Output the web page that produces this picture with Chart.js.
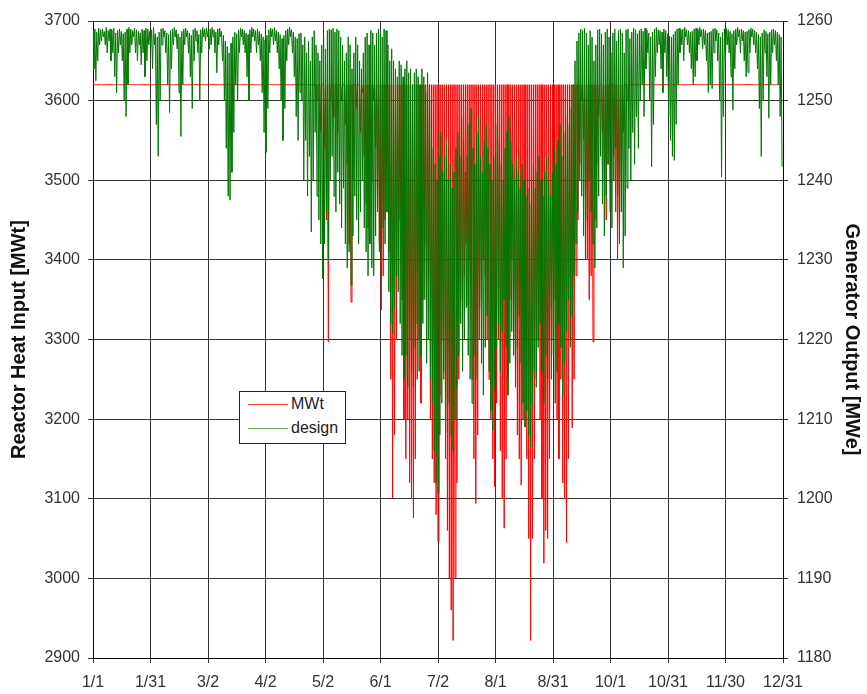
<!DOCTYPE html>
<html>
<head>
<meta charset="utf-8">
<script src="https://cdn.jsdelivr.net/npm/chart.js@4.4.1/dist/chart.umd.min.js"></script>
<style>
  html, body { margin: 0; padding: 0; background: #fff; }
  #wrap { position: relative; width: 867px; height: 694px; }
  #legend {
    position: absolute; left: 239px; top: 391px; width: 105px; height: 51px;
    border: 1px solid #222; background: #fff;
    font: 16px "Liberation Sans", Arial, sans-serif; color: #222;
  }
  .row { position: absolute; left: 0; width: 100%; height: 20px; line-height: 20px; }
  .swatch { position: absolute; left: 8px; top: 10px; width: 40px; height: 0; border-top: 1px solid; }
  .label { position: absolute; left: 51px; top: 0; white-space: nowrap; }
</style>
</head>
<body>
<div id="wrap">
  <canvas id="grafico" width="867" height="694"></canvas>
  <div id="legend">
    <div class="row" style="top:2px"><span class="swatch" style="border-color:#ff4040"></span><span class="label">MWt</span></div>
    <div class="row" style="top:26px"><span class="swatch" style="border-color:#5aae5a"></span><span class="label">design</span></div>
  </div>
</div>
<script>
(() => {
  // Etiquetas del eje X (Excel pone una marca cada 1/12 de año)
  const dayLabels = ["1/1", "1/31", "3/2", "4/2", "5/2", "6/1", "7/2", "8/1", "8/31", "10/1", "10/31", "11/30", "12/31"];
  const daysInYear = 365;

  // Limite de potencia termica (la linea roja plana)
  const mwtLimit = 3620;

  // Minimo diario de MWt (eje izquierdo), dia 0 = 1/1
  const mwtDailyLow = [
    3620,3620,3620,3620,3620,3620,3620,3620,3620,3620,
    3620,3620,3620,3620,3620,3620,3620,3620,3620,3620,
    3620,3620,3620,3620,3620,3620,3620,3620,3620,3620,
    3620,3620,3620,3620,3620,3620,3620,3620,3620,3620,
    3620,3620,3620,3620,3620,3620,3620,3620,3620,3620,
    3620,3620,3620,3620,3620,3620,3620,3620,3620,3620,
    3620,3620,3620,3620,3620,3620,3620,3620,3620,3620,
    3620,3620,3620,3620,3620,3620,3620,3620,3620,3620,
    3620,3620,3620,3620,3620,3620,3620,3620,3620,3620,
    3620,3620,3620,3620,3620,3620,3620,3620,3620,3620,
    3620,3620,3620,3620,3620,3620,3620,3620,3620,3620,
    3620,3620,3620,3620,3620,3620,3620,3620,3600,3620,
    3560,3620,3540,3450,3297,3600,3620,3580,3620,3560,
    3620,3600,3620,3570,3520,3420,3347,3500,3620,3590,
    3620,3560,3610,3530,3470,3440,3560,3500,3600,3540,
    3480,3420,3337,3380,3450,3520,3410,3250,3101,3180,
    3300,3380,3450,3350,3200,3150,3200,3120,3100,3076,
    3150,3250,3300,3220,3350,3420,3300,3380,3200,3150,
    3120,3080,3046,3230,3300,3250,3150,3060,3000,2960,
    2922,3000,3120,3250,3350,3300,3380,3420,3342,3400,
    3250,3150,3094,3180,3300,3350,3400,3380,3300,3250,
    3200,3150,3115,3220,3300,3160,3100,3063,3150,3250,
    3350,3400,3300,3250,3180,3150,3117,3200,3300,3150,
    3050,2922,3050,3150,3250,3300,3200,3100,3019,3060,
    3050,3150,3250,3300,3350,3200,3150,3250,3120,3100,
    3045,3150,3300,3189,3250,3380,3450,3520,3600,3550,
    3480,3400,3350,3380,3297,3450,3520,3580,3620,3560,
    3500,3450,3520,3580,3620,3530,3460,3400,3450,3500,
    3560,3620,3600,3620,3620,3620,3620,3620,3620,3620,
    3620,3620,3620,3620,3620,3620,3620,3620,3620,3620,
    3620,3620,3620,3620,3620,3620,3620,3620,3620,3620,
    3620,3620,3620,3620,3620,3620,3620,3620,3620,3620,
    3620,3620,3620,3620,3620,3620,3620,3620,3620,3620,
    3620,3620,3620,3620,3620,3620,3620,3620,3620,3620,
    3620,3620,3620,3620,3620,3620,3620,3620,3620,3620,
    3620,3620,3620,3620,3620,3620,3620,3620,3620,3620,
    3620,3620,3620,3620,3620
  ];

  // Maximo y minimo diario de la salida del generador (eje derecho, MWe)
  const designDailyHigh = [
    1258.8,1259.0,1258.6,1259.1,1258.9,1259.0,1258.7,1259.2,1258.8,1259.0,
    1258.9,1259.1,1258.5,1258.8,1259.0,1258.7,1258.4,1258.6,1259.0,1259.2,
    1259.0,1258.8,1259.1,1258.9,1258.7,1258.5,1259.0,1258.8,1259.1,1259.0,
    1258.7,1258.9,1259.2,1258.4,1258.0,1258.6,1259.0,1259.1,1258.8,1258.5,
    1258.3,1258.8,1259.0,1259.2,1258.9,1258.4,1258.0,1258.7,1259.0,1259.1,
    1258.8,1258.5,1258.2,1258.9,1259.1,1258.8,1258.3,1258.9,1259.2,1259.0,
    1259.1,1258.8,1259.0,1259.2,1258.9,1258.6,1259.0,1259.1,1258.7,1258.2,
    1257.5,1256.8,1256.0,1257.2,1258.0,1258.6,1258.4,1258.9,1259.1,1259.0,
    1258.8,1258.5,1258.3,1258.9,1259.2,1259.0,1258.8,1259.0,1258.7,1258.4,
    1258.0,1257.6,1258.2,1258.9,1259.1,1259.0,1259.2,1258.8,1258.6,1258.3,
    1257.8,1258.2,1258.8,1259.0,1259.2,1258.9,1258.6,1258.0,1257.8,1258.4,
    1258.5,1257.0,1258.0,1256.0,1257.5,1255.0,1258.0,1258.8,1257.0,1256.0,
    1255.0,1257.0,1258.0,1256.5,1258.8,1259.0,1258.9,1259.1,1258.6,1259.0,
    1258.8,1258.0,1257.0,1255.0,1256.0,1258.0,1257.0,1254.0,1256.0,1258.0,
    1257.0,1255.0,1254.0,1256.0,1258.0,1258.5,1257.0,1258.8,1258.5,1257.0,
    1258.5,1259.0,1258.6,1258.0,1259.0,1258.8,1257.0,1255.0,1256.5,1255.0,
    1254.0,1253.0,1255.0,1254.5,1253.0,1254.0,1255.0,1253.5,1254.0,1252.0,
    1253.5,1254.0,1253.0,1252.0,1254.0,1253.0,1251.0,1253.5,1252.0,1250.0,
    1244.0,1242.0,1240.0,1243.0,1246.0,1241.0,1243.0,1245.0,1240.0,1242.0,
    1239.0,1241.0,1244.0,1246.0,1243.0,1248.0,1245.0,1241.0,1243.0,1247.0,
    1249.0,1244.0,1242.0,1246.0,1248.0,1243.0,1241.0,1245.0,1247.0,1244.0,
    1242.0,1240.0,1243.0,1247.0,1250.0,1245.0,1242.0,1240.0,1244.0,1246.0,
    1248.0,1245.0,1242.0,1240.0,1243.0,1241.0,1239.0,1242.0,1240.0,1238.0,
    1239.0,1237.0,1240.0,1242.0,1239.0,1241.0,1243.0,1240.0,1238.0,1241.0,
    1243.0,1240.0,1238.0,1241.0,1244.0,1242.0,1245.0,1247.0,1243.0,1246.0,
    1248.0,1250.0,1247.0,1249.0,1252.0,1255.0,1257.5,1258.5,1259.0,1258.8,
    1259.1,1258.5,1257.0,1258.8,1258.0,1255.0,1257.0,1258.9,1259.0,1258.4,
    1257.0,1258.6,1259.0,1258.0,1256.0,1258.5,1259.0,1257.5,1258.8,1259.0,
    1258.5,1256.0,1258.9,1259.0,1257.8,1258.6,1259.1,1258.9,1258.4,1258.8,
    1259.0,1258.7,1259.1,1258.9,1258.5,1258.0,1258.6,1259.0,1259.2,1258.9,
    1258.8,1258.6,1259.0,1258.8,1258.4,1258.1,1258.0,1258.3,1258.7,1259.0,
    1259.1,1258.9,1259.0,1259.2,1258.9,1258.8,1258.6,1258.7,1259.0,1259.1,
    1259.0,1259.2,1258.9,1259.0,1258.8,1258.5,1258.6,1258.7,1259.0,1259.1,
    1258.9,1258.5,1258.0,1258.6,1259.0,1259.1,1258.9,1258.7,1258.4,1258.8,
    1259.0,1259.2,1258.9,1259.0,1258.8,1258.6,1258.7,1258.9,1259.1,1259.0,
    1258.8,1258.6,1258.3,1258.0,1258.5,1258.9,1258.7,1258.4,1258.6,1258.9,
    1259.0,1258.8,1258.6,1258.3,1258.0
  ];

  const designDailyLow = [
    1254,1252.5,1255,1257,1257.5,1258,1257,1256,1257.5,1255,
    1256,1253,1251,1256,1257,1255,1250,1248,1252,1256,
    1257,1258,1256,1255,1257,1254.5,1256,1253,1255,1257,
    1256.5,1254,1257,1247,1243,1250,1257,1258,1256,1252,
    1248.5,1254,1257,1258,1256.5,1251,1245.5,1252,1257,1258,
    1256,1253,1249,1255,1257.5,1256,1250,1256,1258,1257.5,
    1258,1256.5,1257,1258,1256,1253.5,1257,1258,1255,1250,
    1244,1238,1237.5,1241,1246,1252,1250,1256,1258,1257,
    1256,1253,1250,1256,1258,1257.5,1256,1257,1255,1251,
    1246,1243.5,1249,1256,1258,1257,1257.5,1256,1254,1250,
    1245,1249,1255,1257,1258,1256,1253,1248,1245,1251,
    1250,1240,1245,1238,1243,1233.5,1240,1246,1238,1235,
    1232,1227.6,1232,1236,1230,1240,1243,1238,1236,1241,
    1237,1234,1239,1232,1229,1231,1226.8,1233,1238,1235,
    1232,1236,1240,1234,1231,1228,1232,1229,1228,1233,
    1236,1231,1230,1234,1232,1236,1226,1222,1220.7,1224,
    1228,1226,1222,1218,1215,1218,1214,1220,1216,1214,
    1219,1222,1216,1218,1222,1225,1217,1220,1215,1212,
    1206,1202,1200.7,1208,1212,1216,1210,1208.4,1212,1208,
    1206,1210,1214,1218,1222,1216,1220,1224,1218,1215,
    1212,1218,1215,1220,1224,1217,1213,1219,1223,1216,
    1211,1208.5,1214,1219,1222,1216,1221,1225,1219,1213,
    1217,1221,1218,1214,1219,1223,1217,1212,1209,1211,
    1208,1206.5,1212,1216,1214,1219,1222,1216,1212,1218,
    1215,1220,1224,1218,1212,1216,1222,1219,1213,1217,
    1221,1225,1219,1223,1228,1232,1236,1240,1238,1233,
    1230,1235,1240,1236,1232,1229,1234,1238,1243,1237,
    1233,1238,1242,1236,1234,1240,1244,1238,1232,1236,
    1229,1233,1239,1244,1240,1246,1242,1248,1244,1250,
    1252,1248,1254,1256,1250,1241.7,1247,1253,1256,1257,
    1254,1251,1256,1253,1248,1245,1243,1242.5,1247,1252,
    1256,1257,1255,1258,1257,1256,1254,1252,1253,1255,
    1257,1258,1256.5,1257,1255,1251,1252,1251.5,1256,1257.5,
    1255,1250,1240.4,1248,1255,1257,1256,1253,1248.8,1254,
    1257,1258,1256,1257.5,1255,1253,1253.5,1256,1258,1257,
    1256,1254,1249,1243,1250,1256,1253,1247.8,1252,1256,
    1257,1255,1252,1248,1241.7
  ];

  const gridColor = "rgba(0, 0, 0, 0.8)";
  const tickColor = "#333";

  // Un punto alto y uno bajo por dia, para dibujar la oscilacion diaria
  function zigzag(highs, lows) {
    const puntos = [];
    lows.forEach((low, d) => {
      const high = Array.isArray(highs) ? highs[d] : highs;
      puntos.push({ x: d, y: high });
      puntos.push({ x: d + 0.5, y: low });
    });
    return puntos;
  }

  Chart.defaults.font.family = '"Liberation Sans", Arial, sans-serif';
  Chart.defaults.font.size = 16;
  Chart.defaults.color = tickColor;

  const ctx = document.getElementById("grafico");

  new Chart(ctx, {
    type: "line",
    data: {
      datasets: [
        {
          label: "MWt",
          data: zigzag(mwtLimit, mwtDailyLow),
          borderColor: "#ff0000",
          borderWidth: 1,
          pointRadius: 0,
          yAxisID: "y",
          order: 2,
        },
        {
          label: "design",
          data: zigzag(designDailyHigh, designDailyLow),
          borderColor: "#007800",
          borderWidth: 1,
          pointRadius: 0,
          yAxisID: "y1",
          order: 1,
        },
      ],
    },
    options: {
      responsive: false,
      animation: false,
      devicePixelRatio: 1,
      layout: { padding: { top: 21 } },
      plugins: {
        legend: { display: false },
        tooltip: { enabled: false },
      },
      scales: {
        x: {
          type: "linear",
          min: 0,
          max: daysInYear,
          afterBuildTicks: (axis) => {
            axis.ticks = dayLabels.map((_, i) => ({ value: (i * daysInYear) / 12 }));
          },
          afterFit: (axis) => { axis.height = 36; },
          ticks: {
            autoSkip: false,
            maxRotation: 0,
            padding: 10,
            callback: (value, index) => dayLabels[index],
          },
          grid: { color: gridColor, tickLength: 5 },
          border: { color: gridColor },
        },
        y: {
          position: "left",
          min: 2900,
          max: 3700,
          afterFit: (axis) => { axis.width = 93; },
          ticks: { stepSize: 100, padding: 8, callback: (v) => String(v) },
          grid: { color: gridColor, tickLength: 5 },
          border: { color: gridColor },
          title: {
            display: true,
            text: "Reactor Heat Input [MWt]",
            color: "#111",
            font: { size: 20, weight: "bold" },
            padding: { top: 7, bottom: 0 },
          },
        },
        y1: {
          position: "right",
          min: 1180,
          max: 1260,
          afterFit: (axis) => { axis.width = 84; },
          ticks: { stepSize: 10, padding: 9, callback: (v) => String(v) },
          grid: { drawOnChartArea: false, color: gridColor, tickLength: 5 },
          border: { color: gridColor },
          title: {
            display: true,
            text: "Generator Output [MWe]",
            color: "#111",
            font: { size: 20, weight: "bold" },
            padding: { top: 3, bottom: 0 },
          },
        },
      },
    },
  });
})();
</script>
</body>
</html>
